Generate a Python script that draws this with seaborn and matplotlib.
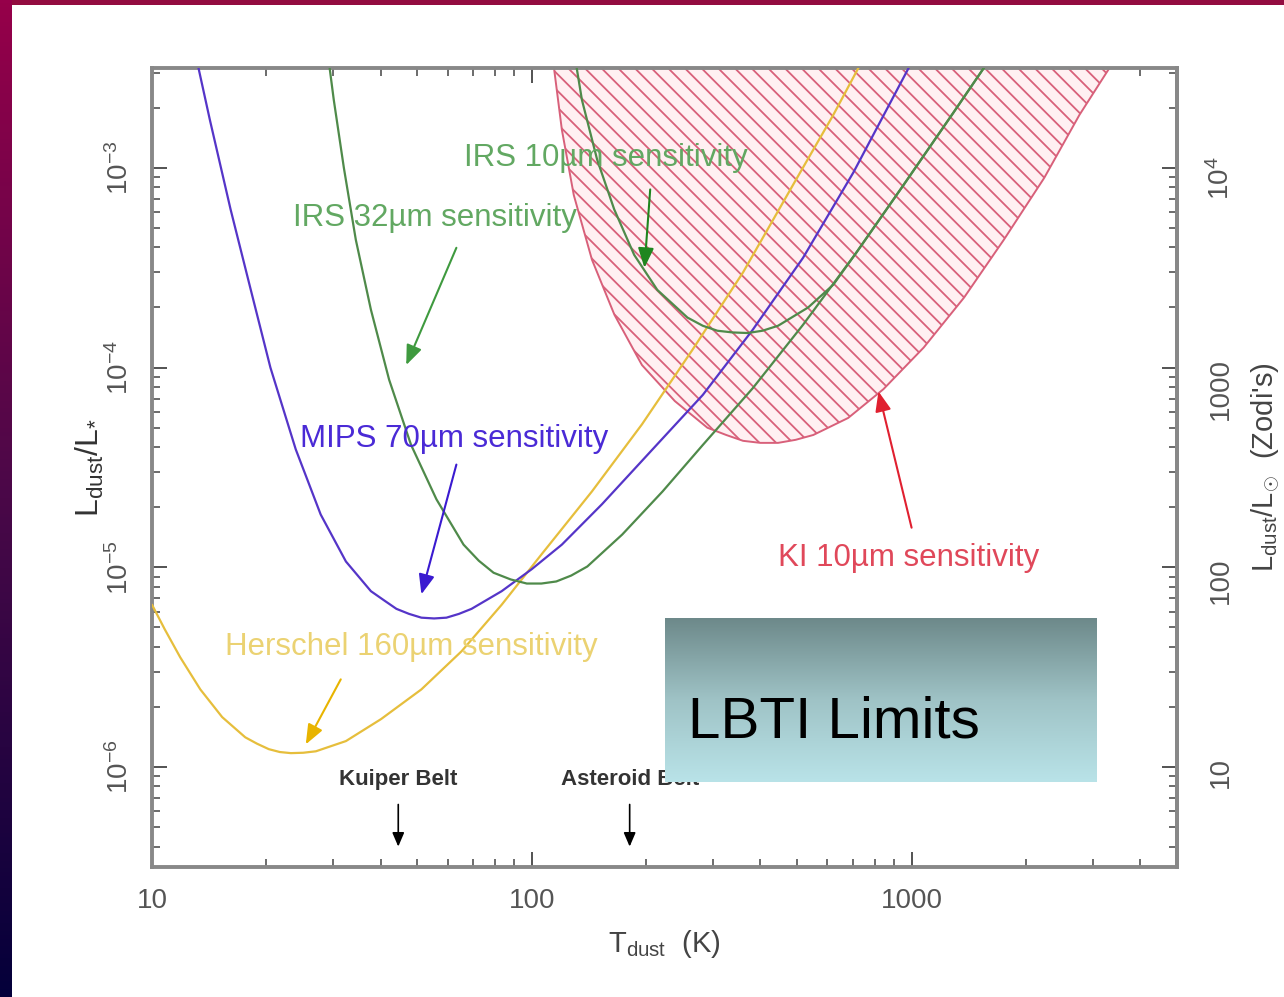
import numpy as np
import pandas as pd
import seaborn as sns
import matplotlib.pyplot as plt
from matplotlib.colors import LinearSegmentedColormap
from matplotlib.ticker import FuncFormatter, NullFormatter

# sensitivity curves: dust temperature (K) vs L_dust/L_star
mips_temp = [12.6, 14.2, 16.1, 18.2, 20.5, 23.9, 27.8, 32.4, 37.7, 41.0, 44.0, 47.5,
             51.2, 55.3, 59.6, 64.3, 69.4, 83.3, 100, 120, 153, 208, 282, 382, 518,
             703, 982, 1044]
mips_lum = [4.9e-3, 1.74e-3, 6.2e-4, 2.45e-4, 1.0e-4, 3.9e-5, 1.84e-5, 1.07e-5, 7.6e-6,
            6.8e-6, 6.2e-6, 5.85e-6, 5.6e-6, 5.55e-6, 5.6e-6, 5.85e-6, 6.2e-6, 7.6e-6,
            9.8e-6, 1.30e-5, 2.07e-5, 3.9e-5, 7.3e-5, 1.55e-4, 3.55e-4, 9.5e-4,
            3.16e-3, 4.4e-3]

irs32_temp = [28.7, 30.1, 32.0, 34.4, 37.7, 42.1, 48.1, 56.1, 66.1, 72.5, 79.3, 88.0,
              97.0, 106, 116, 127, 140, 173, 221, 282, 382, 518, 715, 952, 1291, 1549,
              1750]
irs32_lum = [4.4e-3, 2.19e-3, 1.0e-3, 4.37e-4, 1.95e-4, 8.7e-5, 4.1e-5, 2.19e-5, 1.30e-5,
             1.08e-5, 9.4e-6, 8.7e-6, 8.3e-6, 8.3e-6, 8.5e-6, 9.1e-6, 1.01e-5, 1.46e-5,
             2.4e-5, 4.1e-5, 7.9e-5, 1.64e-4, 3.76e-4, 8.2e-4, 1.9e-3, 3.16e-3, 4.4e-3]

irs10_temp = [127.6, 135.5, 148.6, 164.8, 186, 214, 257, 282, 308, 338, 370, 405, 445,
              534, 622, 715, 952, 1291, 1549, 1750]
irs10_lum = [4.4e-3, 2.19e-3, 1.10e-3, 6.2e-4, 3.67e-4, 2.45e-4, 1.78e-4, 1.62e-4,
             1.53e-4, 1.50e-4, 1.49e-4, 1.53e-4, 1.62e-4, 2.0e-4, 2.6e-4, 3.76e-4,
             8.2e-4, 1.9e-3, 3.16e-3, 4.4e-3]

herschel_temp = [10, 10.8, 11.86, 13.4, 15.3, 17.6, 18.9, 20.3, 21.7, 23.2, 25.0, 27.0,
                 32.4, 40.1, 51.2, 65.3, 83.3, 106, 144, 195, 265, 360, 487, 622, 724,
                 793]
herschel_lum = [6.5e-6, 4.9e-6, 3.55e-6, 2.45e-6, 1.78e-6, 1.41e-6, 1.31e-6, 1.23e-6,
                1.19e-6, 1.175e-6, 1.18e-6, 1.20e-6, 1.35e-6, 1.74e-6, 2.45e-6, 3.8e-6,
                6.5e-6, 1.16e-5, 2.4e-5, 5.2e-5, 1.23e-4, 3.0e-4, 8.2e-4, 1.84e-3,
                3.16e-3, 4.4e-3]

# KI 10um region outline (hatched)
ki_temp = [111.6, 114.4, 120, 129, 144, 165, 195, 238, 290, 325, 360, 400, 445, 495,
           551, 681, 843, 1076, 1374, 1750, 2234, 2766, 3318, 3640]
ki_lum = [4.4e-3, 3.16e-3, 1.55e-3, 7.3e-4, 3.47e-4, 1.84e-4, 1.03e-4, 6.8e-5, 5.0e-5,
          4.6e-5, 4.3e-5, 4.2e-5, 4.2e-5, 4.35e-5, 4.6e-5, 5.6e-5, 7.8e-5, 1.26e-4,
          2.24e-4, 4.37e-4, 8.9e-4, 1.84e-3, 3.16e-3, 4.4e-3]

belt_names = ["Kuiper Belt", "Asteroid Belt"]
belt_temp = [44.5, 181]

zodi_ticks = [10, 100, 1000, 10000]

curves = pd.concat([
    pd.DataFrame({"T": herschel_temp, "L": herschel_lum, "curve": "Herschel"}),
    pd.DataFrame({"T": mips_temp, "L": mips_lum, "curve": "MIPS"}),
    pd.DataFrame({"T": irs32_temp, "L": irs32_lum, "curve": "IRS32"}),
    pd.DataFrame({"T": irs10_temp, "L": irs10_lum, "curve": "IRS10"}),
], ignore_index=True)

palette = {"Herschel": "#e6be3c", "MIPS": "#5535c8", "IRS32": "#4f8a4a", "IRS10": "#4f8a4a"}

sns.set_theme(style="ticks")
plt.rcParams["font.family"] = ["Liberation Sans", "DejaVu Sans"]
plt.rcParams["mathtext.fontset"] = "custom"
plt.rcParams["mathtext.rm"] = "Liberation Sans"
plt.rcParams["mathtext.it"] = "Liberation Sans:italic"
plt.rcParams["hatch.linewidth"] = 1.3

fig = plt.figure(figsize=(12.84, 9.97), dpi=100)
fig.patch.set_facecolor("white")
ax = fig.add_axes([0.1184, 0.1304, 0.7983, 0.8014])
ax.set_facecolor("white")

ax.fill(ki_temp, ki_lum, facecolor="#fff0f2", edgecolor="#d8607a", hatch="\\\\",
        linewidth=1.4, zorder=1)

sns.lineplot(data=curves, x="T", y="L", hue="curve", palette=palette, sort=False,
             estimator=None, legend=False, linewidth=1.6, ax=ax, zorder=3)

ax.set_xscale("log")
ax.set_yscale("log")
ax.set_xlim(10, 5000)
ax.set_ylim(10 ** -6.5, 10 ** -2.5)

# labels and arrows
txt = dict(fontsize=22.5, va="center", ha="left", zorder=5)
ax.text(66.1, 1.12e-3, "IRS 10\u00b5m sensitivity", color="#62a862", **txt)
ax.text(23.5, 5.6e-4, "IRS 32\u00b5m sensitivity", color="#62a862", **txt)
ax.text(24.6, 4.37e-5, "MIPS 70\u00b5m sensitivity", color="#4a2ad6", **txt)
ax.text(15.6, 3.98e-6, "Herschel 160\u00b5m sensitivity", color="#ebd272", **txt)
ax.text(445, 1.12e-5, "KI 10\u00b5m sensitivity", color="#e0485a", **txt)

arrows = [
    ((205, 7.8e-4), (198, 3.16e-4), "#1f861f"),
    ((63.3, 3.98e-4), (46.7, 1.03e-4), "#3f9a3f"),
    ((63.3, 3.27e-5), (51.2, 7.33e-6), "#3a1ad0"),
    ((31.4, 2.75e-6), (25.4, 1.30e-6), "#e8b400"),
    ((1000, 1.58e-5), (818, 7.6e-5), "#e02030"),
]
for start, end, col in arrows:
    ax.annotate("", xy=end, xytext=start, zorder=5,
                arrowprops=dict(arrowstyle="-|>,head_length=1.0,head_width=0.4",
                                color=col, lw=1.5, shrinkA=0, shrinkB=0))

for name, t in zip(belt_names, belt_temp):
    ax.text(t, 8.7e-7, name, fontsize=16, color="#333333", ha="center", va="center",
            fontweight="bold")
    ax.annotate("", xy=(t, 4.0e-7), xytext=(t, 6.5e-7),
                arrowprops=dict(arrowstyle="-|>,head_length=0.7,head_width=0.3",
                                color="black", lw=1.2, shrinkA=0, shrinkB=0))

# axes styling
for s in ax.spines.values():
    s.set_color("#888888")
    s.set_linewidth(2.8)
ax.tick_params(which="both", direction="in", top=True, right=False, color="#444444",
               labelcolor="#555555")
ax.tick_params(which="major", length=11, width=1.3)
ax.tick_params(which="minor", length=6, width=1.1)
ax.tick_params(axis="x", pad=15, labelsize=20)
ax.tick_params(axis="y", pad=13, labelsize=20, labelrotation=90)
ax.xaxis.set_major_formatter(FuncFormatter(lambda v, p: f"{v:g}"))
ax.xaxis.set_minor_formatter(NullFormatter())
ax.yaxis.set_minor_formatter(NullFormatter())
for lab in ax.get_yticklabels():
    lab.set_va("center")

ax.set_xlabel(r"T$_{\mathrm{dust}}$  (K)", fontsize=21, color="#444444", labelpad=10)
ax.set_ylabel(r"L$_{\mathrm{dust}}$/L$_{*}$", fontsize=23, color="#333333", labelpad=0)

sec = ax.secondary_yaxis("right", functions=(lambda v: v * 1e7, lambda v: v / 1e7))
sec.set_yticks(zodi_ticks)
sec.spines["right"].set_color("#888888")
sec.spines["right"].set_linewidth(2.8)
sec.tick_params(which="both", direction="in", color="#444444", labelcolor="#555555")
sec.tick_params(which="major", length=11, width=1.3)
sec.tick_params(which="minor", length=6, width=1.1)
sec.tick_params(axis="y", pad=22, labelsize=20, labelrotation=90)
sec.yaxis.set_major_formatter(
    FuncFormatter(lambda v, p: r"10$^{4}$" if v >= 1e4 else f"{v:g}"))
sec.yaxis.set_minor_formatter(NullFormatter())
sec.set_ylabel(r"L$_{\mathrm{dust}}$/L$_{\odot}$  (Zodi's)", fontsize=21,
               color="#444444", labelpad=10)

# LBTI Limits box with vertical gradient
box = fig.add_axes([0.518, 0.2156, 0.336, 0.1644])
grad = LinearSegmentedColormap.from_list("box", ["#6d898a", "#9fc3c6", "#b9e3e8"])
box.imshow(np.linspace(0, 1, 256).reshape(-1, 1), cmap=grad, aspect="auto",
           extent=[0, 1, 0, 1])
box.set_axis_off()
box.text(0.053, 0.27, "LBTI Limits", fontsize=42, color="black", ha="left",
         va="baseline", transform=box.transAxes)

# slide frame: crimson top bar and crimson-to-navy left bar
top = fig.add_axes([0, 1 - 5 / 997, 1, 5 / 997])
top.set_facecolor("#930c40")
top.set_xticks([])
top.set_yticks([])
for s in top.spines.values():
    s.set_visible(False)
side = fig.add_axes([0, 0, 12 / 1284, 1])
frame = LinearSegmentedColormap.from_list("frame", ["#96004a", "#4a0848", "#04003a"])
side.imshow(np.linspace(0, 1, 256).reshape(-1, 1), cmap=frame, aspect="auto",
            extent=[0, 1, 0, 1])
side.set_axis_off()

fig.savefig("out.png", dpi=100, facecolor="white")
